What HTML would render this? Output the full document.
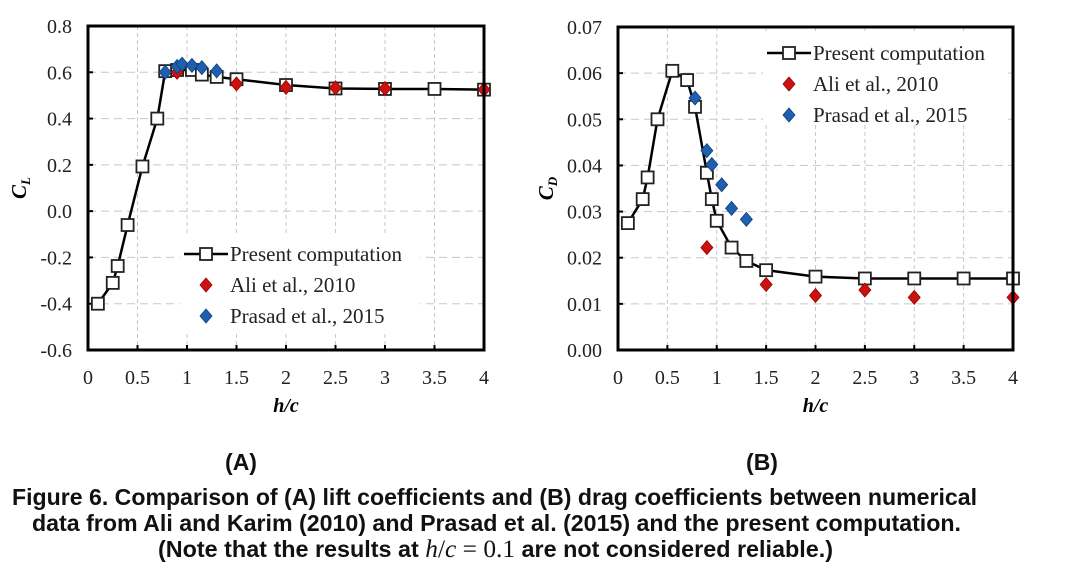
<!DOCTYPE html>
<html><head><meta charset="utf-8"><style>
html,body{margin:0;padding:0;background:#fff;}
svg{display:block;}
.tk{font-family:"Liberation Serif",serif;font-size:20px;fill:#222;}
.cap{font-family:"Liberation Sans",sans-serif;font-weight:bold;font-size:23px;fill:#111;}
.leg{font-family:"Liberation Serif",serif;font-size:21px;fill:#222;}
</style></head><body>
<svg id="fig" width="1080" height="580" viewBox="0 0 1080 580">
<g id="chartA"></g>
<g id="chartB"></g>
<text class="cap" x="241" y="470" text-anchor="middle">(A)</text>
<text class="cap" x="762" y="470" text-anchor="middle">(B)</text>
<text class="cap" x="12" y="505" textLength="965" lengthAdjust="spacingAndGlyphs">Figure 6. Comparison of (A) lift coefficients and (B) drag coefficients between numerical</text>
<text class="cap" x="32" y="531" textLength="929" lengthAdjust="spacingAndGlyphs">data from Ali and Karim (2010) and Prasad et al. (2015) and the present computation.</text>
<text class="cap" x="158" y="557" textLength="675" lengthAdjust="spacingAndGlyphs">(Note that the results at <tspan font-family="Liberation Serif" font-style="italic" font-weight="normal" font-size="25">h</tspan><tspan font-family="Liberation Serif" font-weight="normal" font-size="25">/</tspan><tspan font-family="Liberation Serif" font-style="italic" font-weight="normal" font-size="25">c</tspan><tspan font-family="Liberation Serif" font-weight="normal" font-size="25"> = 0.1</tspan> are not considered reliable.)</text>
</svg>
<script>
const xTicks=[0,0.5,1,1.5,2,2.5,3,3.5,4];
const yTicksA=[-0.6,-0.4,-0.2,0,0.2,0.4,0.6,0.8];
const yLabelsA=["-0.6","-0.4","-0.2","0.0","0.2","0.4","0.6","0.8"];
const yTicksB=[0,0.01,0.02,0.03,0.04,0.05,0.06,0.07];
const yLabelsB=["0.00","0.01","0.02","0.03","0.04","0.05","0.06","0.07"];
const presA_x=[0.1,0.25,0.3,0.4,0.55,0.7,0.78,0.9,1.05,1.15,1.3,1.5,2,2.5,3,3.5,4];
const presA_y=[-0.40,-0.31,-0.237,-0.06,0.193,0.40,0.605,0.61,0.61,0.59,0.58,0.57,0.545,0.53,0.528,0.528,0.525];
const aliA_x=[0.9,1.5,2,2.5,3,4];
const aliA_y=[0.60,0.55,0.535,0.533,0.53,0.525];
const praA_x=[0.78,0.9,0.95,1.05,1.15,1.3];
const praA_y=[0.60,0.625,0.635,0.63,0.62,0.606];
const presB_x=[0.1,0.25,0.3,0.4,0.55,0.7,0.78,0.9,0.95,1.0,1.15,1.3,1.5,2,2.5,3,3.5,4];
const presB_y=[0.0275,0.0327,0.0374,0.050,0.0605,0.0585,0.0527,0.0384,0.0327,0.028,0.0222,0.0193,0.0173,0.0159,0.0155,0.0155,0.0155,0.0155];
const aliB_x=[0.9,1.5,2,2.5,3,4];
const aliB_y=[0.0222,0.0142,0.0118,0.013,0.0114,0.0114];
const praB_x=[0.78,0.9,0.95,1.05,1.15,1.3];
const praB_y=[0.0546,0.0432,0.0402,0.0358,0.0307,0.0283];

const NS="http://www.w3.org/2000/svg";
function mk(p,t,a){const e=document.createElementNS(NS,t);for(const k in a)e.setAttribute(k,a[k]);p.appendChild(e);return e;}

function chart(g,o){
  const X=v=>o.x0+(v-0)/4*(o.x1-o.x0);
  const Y=v=>o.yb-(v-o.ymin)/(o.ymax-o.ymin)*(o.yb-o.yt);
  xTicks.forEach(v=>{if(v>0&&v<4){const l=mk(g,'line',{x1:X(v),x2:X(v),y1:o.yt,y2:o.yb,stroke:'#c8c8c8','stroke-dasharray':'4,3','stroke-width':1});
    
    }});
  o.yt_.forEach(v=>{if(v>o.ymin&&v<o.ymax){const l=mk(g,'line',{x1:o.x0,x2:o.x1,y1:Y(v),y2:Y(v),stroke:'#c8c8c8','stroke-dasharray':'8,5','stroke-width':1});
    
    }});
  const lb=mk(g,'rect',{x:o.lg[0],y:o.lg[1],width:o.lg[2],height:o.lg[3],fill:'#fff'});
  
  
  xTicks.forEach(v=>{const t=mk(g,'text',{x:X(v),y:o.yb+34,'text-anchor':'middle',class:'tk'});t.textContent=String(v);
    
    
    const m=mk(g,'line',{x1:X(v),x2:X(v),y1:o.yb,y2:o.yb-5,stroke:'#000','stroke-width':2});
    
    });
  o.yt_.forEach((v,i)=>{const t=mk(g,'text',{x:o.x0-16,y:Y(v)+7,'text-anchor':'end',class:'tk'});t.textContent=o.yl[i];
    
    
    const m=mk(g,'line',{x1:o.x0,x2:o.x0+5,y1:Y(v),y2:Y(v),stroke:'#000','stroke-width':2});
    
    });
  const ln=mk(g,'polyline',{points:o.px.map((v,i)=>X(v)+','+Y(o.py[i])).join(' '),fill:'none',stroke:'#000','stroke-width':2.5});
  
  
  o.px.forEach((v,i)=>{const r=mk(g,'rect',{x:X(v)-6,y:Y(o.py[i])-6,width:12,height:12,fill:'#fff',stroke:'#222','stroke-width':1.8});
    
    });
  const dia=(cx,cy,c)=>mk(g,'polygon',{points:`${cx},${cy-7} ${cx+6},${cy} ${cx},${cy+7} ${cx-6},${cy}`,fill:c,stroke:c==='#1f5fae'?'#0d3f80':'#9a0000','stroke-width':0.8});
  o.ax.forEach((v,i)=>{const d=dia(X(v),Y(o.ay[i]),'#cc1111');
    
    });
  o.bx.forEach((v,i)=>{const d=dia(X(v),Y(o.by[i]),'#1f5fae');
    
    });
  const f=mk(g,'rect',{x:o.x0,y:o.yt,width:o.x1-o.x0,height:o.yb-o.yt,fill:'none',stroke:'#000','stroke-width':3});
  
  
  const lx=o.lg[0]+4, ly=o.lg[1]+20;
  const l1=mk(g,'line',{x1:lx,x2:lx+44,y1:ly,y2:ly,stroke:'#000','stroke-width':2.5});
  
  
  const s1=mk(g,'rect',{x:lx+16,y:ly-6,width:12,height:12,fill:'#fff',stroke:'#222','stroke-width':1.8});
  
  
  const names=['Present computation','Ali et al., 2010','Prasad et al., 2015'];
  names.forEach((n,i)=>{const t=mk(g,'text',{x:lx+46,y:ly+7+i*31,class:'leg'});t.textContent=n;
    
    });
  const d1=dia(lx+22,ly+31,'#cc1111');
  
  
  const d2=dia(lx+22,ly+62,'#1f5fae');
  
  
  const xt=mk(g,'text',{x:(o.x0+o.x1)/2,y:o.yb+62,'text-anchor':'middle','font-family':'Liberation Serif, serif','font-weight':'bold','font-style':'italic','font-size':'20'});
  xt.textContent='h/c';
  
  
  const yt=mk(g,'text',{transform:`translate(${o.ytx},${(o.yt+o.yb)/2}) rotate(-90)`,'text-anchor':'middle','font-family':'Liberation Serif, serif','font-weight':'bold','font-style':'italic','font-size':'21'});
  yt.innerHTML=o.ytitle;
  
  
}
chart(document.getElementById('chartA'),{x0:88,x1:484,yt:26,yb:350,ymin:-0.6,ymax:0.8,yt_:yTicksA,yl:yLabelsA,
  px:presA_x,py:presA_y,ax:aliA_x,ay:aliA_y,bx:praA_x,by:praA_y,lg:[180,234,240,100],ytx:26,
  ytitle:'C<tspan font-size="13" dy="4">L</tspan>'});
chart(document.getElementById('chartB'),{x0:618,x1:1013,yt:27,yb:350,ymin:0,ymax:0.07,yt_:yTicksB,yl:yLabelsB,
  px:presB_x,py:presB_y,ax:aliB_x,ay:aliB_y,bx:praB_x,by:praB_y,lg:[763,33,240,90],ytx:553,
  ytitle:'C<tspan font-size="13" dy="4">D</tspan>'});
</script>
</body></html>
